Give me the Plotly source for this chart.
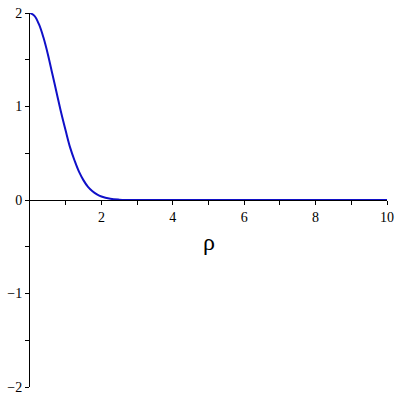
import plotly.graph_objects as go

# values
rho = [0, 0.125, 0.25, 0.375, 0.5, 0.625, 0.75, 0.875, 1.0, 1.125, 1.25, 1.375, 1.5,
       1.625, 1.75, 1.875, 2.0, 2.25, 2.5, 2.75, 3.0, 3.15, 4, 5, 6, 7, 8, 9, 10]
val = [2.0, 1.97, 1.88, 1.74, 1.56, 1.35, 1.14, 0.93, 0.74, 0.56, 0.42, 0.30, 0.21,
       0.14, 0.093, 0.06, 0.037, 0.013, 0.004, 0.001, 0.0, 0.0, 0, 0, 0, 0, 0, 0, 0]

x_ticks = [1, 2, 3, 4, 5, 6, 7, 8, 9, 10]
x_labels = ["", "2", "", "4", "", "6", "", "8", "", "10"]
y_ticks = [-2, -1.5, -1, -0.5, 0, 0.5, 1, 1.5, 2]
y_labels = ["\u22122", "", "\u22121", "", "0", "", "1", "", "2"]

fig = go.Figure()
fig.add_trace(go.Scatter(x=rho, y=val, mode="lines", line=dict(color="#1010c8", width=2, shape="spline"),
                         showlegend=False, hoverinfo="skip"))

fig.update_layout(
    width=400, height=400,
    margin=dict(l=30, r=13, t=13, b=13),
    paper_bgcolor="white", plot_bgcolor="white",
    font=dict(family="Liberation Serif, Times New Roman, serif", size=14, color="black"),
    xaxis=dict(range=[0, 10], showgrid=False, zeroline=False, showline=True, linecolor="black", linewidth=1,
               anchor="free", position=0.5, tickvals=x_ticks, ticktext=x_labels, automargin=False,
               ticks="outside", ticklen=4, tickcolor="black", ticklabeloverflow="allow"),
    yaxis=dict(range=[-2, 2], showgrid=False, zeroline=False, showline=True, linecolor="black", linewidth=1,
               tickvals=y_ticks, ticktext=y_labels, ticks="outside", ticklen=4, tickcolor="black",
               automargin=False, ticklabeloverflow="allow"),
)
fig.add_annotation(x=5, y=-0.45, text="\u03c1", showarrow=False, font=dict(size=24))

# drop the default 8px body margin so the figure sits at the page corner
fig.write_html("out.html", config={"displayModeBar": False},
               post_script="document.body.style.margin='0';")
